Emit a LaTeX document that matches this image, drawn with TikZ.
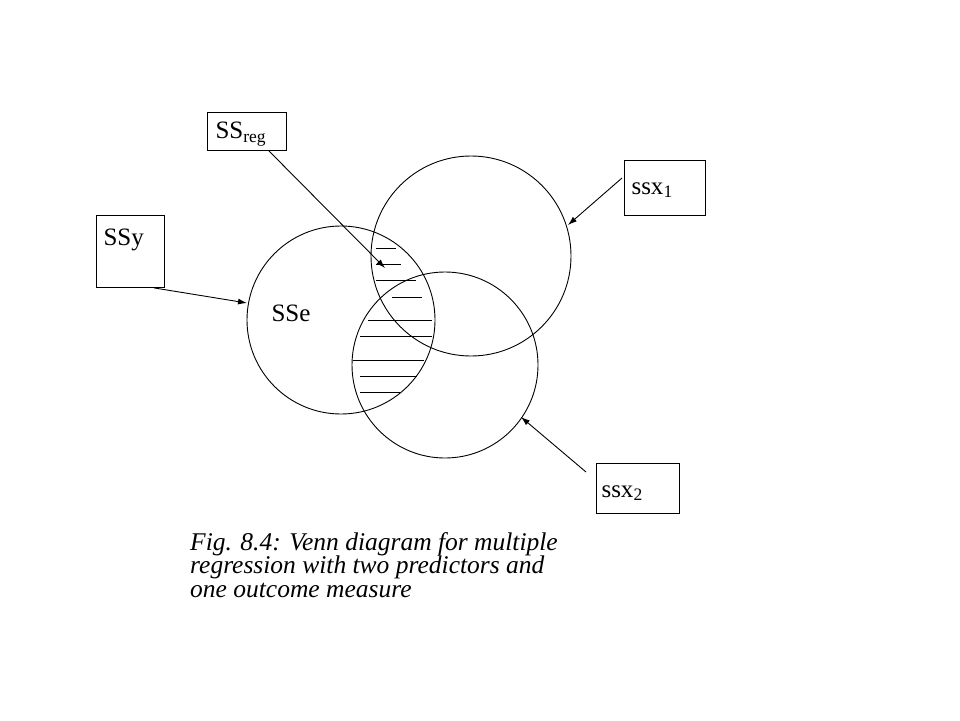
\documentclass[tikz,border=0pt]{standalone}
\usepackage{fontspec}
\setmainfont{Liberation Serif}
\usetikzlibrary{arrows.meta}
\begin{document}
\begin{tikzpicture}[x=1pt,y=-1pt,
  lbl/.style={font=\fontsize{25}{27}\selectfont},
  arr/.style={-{Latex[length=9pt,width=6pt]},line width=0.9pt},
  ln/.style={line width=0.9pt}]
\useasboundingbox (0,0) rectangle (960,720);
\draw[ln] (341,320) circle (94);
\draw[ln] (471,256) circle (100);
\draw[ln] (445,365) circle (93);
\foreach \y/\a/\b in {248/376/396,264/376/401,280/376/416,297/392/422,320/368/432,336/360/432,360/353/424,376/360/417,392/360/400}
  \draw[ln] (\a,\y) -- (\b,\y);
\node[draw,ln,minimum width=79pt,minimum height=38pt,anchor=north west] (reg) at (207,112) {};
\node[lbl,anchor=west] (regt) at (212,134) {SS\textsubscript{reg}};
\node[draw,ln,minimum width=81pt,minimum height=55pt,anchor=north west] (x1) at (624,160) {};
\node[lbl,anchor=west] (x1t) at (628,190) {ssx\textsubscript{1}};
\node[draw,ln,minimum width=68pt,minimum height=72pt,anchor=north west] (y) at (96,215) {};
\node[lbl,anchor=west] (yt) at (100,240) {SSy};
\node[draw,ln,minimum width=83pt,minimum height=50pt,anchor=north west] (x2) at (596,463) {};
\node[lbl,anchor=west] (x2t) at (598,493) {ssx\textsubscript{2}};
\node[lbl,anchor=west] (sse) at (268,313) {SSe};
\coordinate (pr) at (385,268);
\coordinate (p1) at (568,225);
\coordinate (py) at (247,303);
\coordinate (p2) at (521,417);
\draw[arr] ([xshift=-18pt]reg.south east) -- (pr);
\draw[arr] ([yshift=-18pt]x1.north west) ++(-2,0) -- (p1);
\draw[arr] ([xshift=-11pt]y.south east) -- (py);
\draw[arr] ([xshift=-10pt,yshift=-9pt]x2.north west) -- (p2);
\node[anchor=north west,align=left,inner sep=0pt,font=\itshape\fontsize{25.5}{23.5}\selectfont] (cap) at (190,532) {Fig. 8.4: Venn diagram for multiple\\regression with two predictors and\\one outcome measure};
\end{tikzpicture}
\end{document}
